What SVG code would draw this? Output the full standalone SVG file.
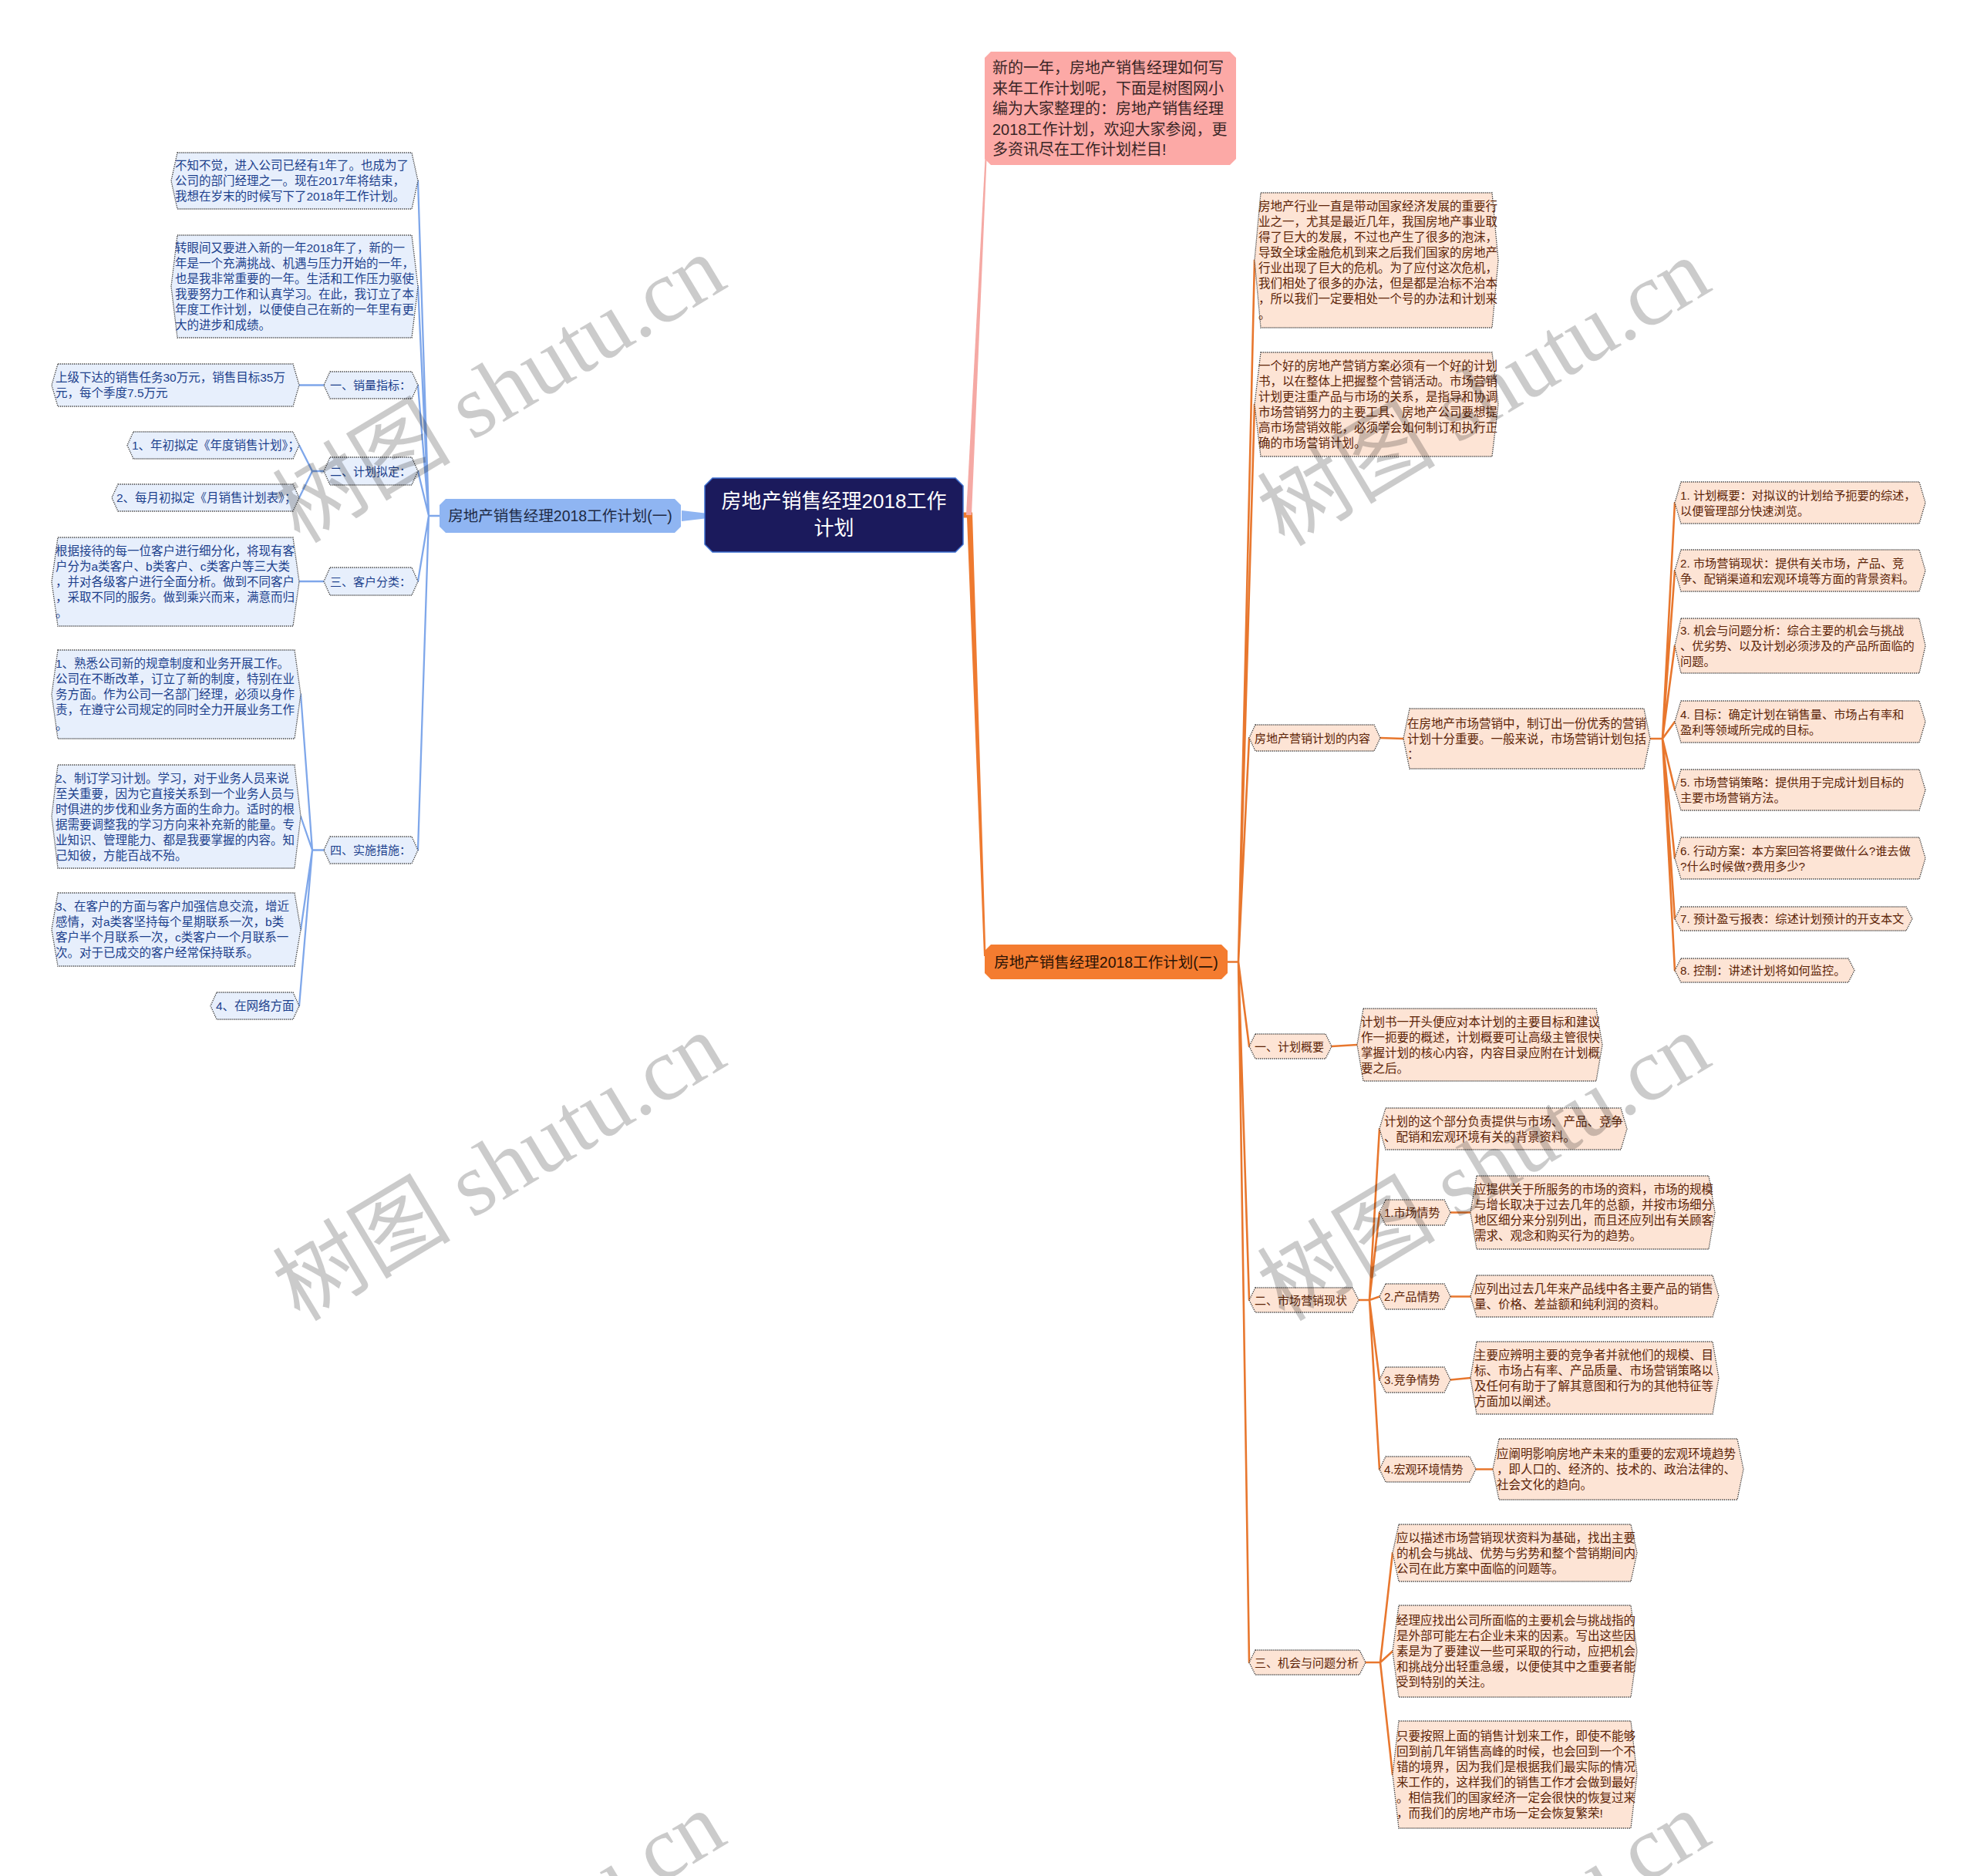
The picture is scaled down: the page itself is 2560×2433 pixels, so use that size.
<svg xmlns="http://www.w3.org/2000/svg" width="2560" height="2433" viewBox="0 0 2560 2433">
<style>
text{font-family:"Liberation Sans","Noto Sans CJK SC",sans-serif;}
.bn{fill:#e7effc;stroke:#3a3a3a;stroke-width:1.3;stroke-dasharray:1.3 1.3;}
.on{fill:#fde4d5;stroke:#3a3a3a;stroke-width:1.3;stroke-dasharray:1.3 1.3;}
.bt{font-size:15.5px;fill:#1c3f8c;}
.ot{font-size:15.5px;fill:#5c2306;}
.ct{font-size:15.2px;fill:#5c2306;}
.lb{font-size:15px;fill:#1c3f8c;}
.lo{font-size:15px;fill:#5c2306;}
.bl{fill:none;stroke:#7fa7ea;stroke-width:2.3;stroke-linecap:round;}
.ol{fill:none;stroke:#e8772e;stroke-width:2.6;stroke-linecap:round;}
.wm{font-family:"Liberation Serif","Noto Sans CJK SC",serif;font-size:116px;fill:#000;opacity:0.2;}
</style>

<g id="connectors">
  <polygon points="884,662 914,665.5 914,672.5 884,676" fill="#8fb5f2"/>
  <polygon points="1249,664.5 1261,664.5 1278.5,1240 1276,1240 1254,671.5 1249,671.5" fill="#ee7a30"/>
  <polygon points="1253,668 1260,668 1280,196 1278,196" fill="#f5a9a4"/>
  <path class="bl" d="M570,669 H556 M556,669 L542,234.5 M556,669 L542,371.5 M556,669 L542,499.5 M556,669 L542,611 M556,669 L542,754 M556,669 L542,1102.5"/>
  <path class="bl" d="M420,499.5 H388"/>
  <path class="bl" d="M420,611 H405 L388,577.5 M405,611 L388,645.5"/>
  <path class="bl" d="M420,754 H388"/>
  <path class="bl" d="M420,1102.5 H405 L390,900.5 M405,1102.5 L390,1059 M405,1102.5 L390,1205.5 M405,1102.5 L388,1304.5"/>
  <path class="ol" d="M1592,1247.5 H1606 M1606,1247.5 L1627,337.5 M1606,1247.5 L1627,524.5 M1606,1247.5 L1620,957 M1606,1247.5 L1620,1357 M1606,1247.5 L1620,1686 M1606,1247.5 L1620,2156"/>
  <path class="ol" d="M1790,957 L1820,958"/>
  <path class="ol" d="M2140,958 H2156 M2156,958 L2172,652 M2156,958 L2172,740 M2156,958 L2172,837.5 M2156,958 L2172,936 M2156,958 L2172,1024.5 M2156,958 L2172,1113 M2156,958 L2172,1191.5 M2156,958 L2172,1258.5"/>
  <path class="ol" d="M1727,1357 L1760,1355"/>
  <path class="ol" d="M1762,1686 H1776 M1776,1686 L1789,1464 M1776,1686 L1789,1572.5 M1776,1686 L1789,1681.5 M1776,1686 L1789,1789.5 M1776,1686 L1789,1905.5"/>
  <path class="ol" d="M1881,1572.5 H1907 M1881,1681.5 H1907 M1881,1789.5 L1907,1787 M1914,1905.5 H1936"/>
  <path class="ol" d="M1771,2156 H1790 M1790,2156 L1806,2014 M1790,2156 L1806,2141.5 M1790,2156 L1806,2301.5"/>
</g>

<g id="center">
  <polygon points="924,620 1239,620 1249,630 1249,706 1239,716 924,716 914,706 914,630" fill="#1b1a5c" stroke="#3d6fd0" stroke-width="1.5"/>
  <text x="1081.5" y="659" font-size="26" fill="#ffffff" text-anchor="middle">房地产销售经理2018工作</text>
  <text x="1081.5" y="694" font-size="26" fill="#ffffff" text-anchor="middle">计划</text>
</g>

<g id="branch-left">
  <polygon points="578,647 875,647 883,655 883,683 875,691 578,691 570,683 570,655" fill="#8fb5f2"/>
  <text x="726.5" y="676" font-size="19.5" fill="#1e2a44" text-anchor="middle">房地产销售经理2018工作计划(一)</text>
</g>

<g id="branch-right">
  <polygon points="1285,1225 1584,1225 1592,1233 1592,1262 1584,1270 1285,1270 1277,1262 1277,1233" fill="#f47c30"/>
  <text x="1434.5" y="1254.5" font-size="19.5" fill="#2a1305" text-anchor="middle">房地产销售经理2018工作计划(二)</text>
</g>

<g id="intro">
  <polygon points="1285,67 1595,67 1603,75 1603,206 1595,214 1285,214 1277,206 1277,75" fill="#fca9a6"/>
  <text font-size="20" fill="#3a2626">
    <tspan x="1287" y="95">新的一年，房地产销售经理如何写</tspan>
    <tspan x="1287" y="121.5">来年工作计划呢，下面是树图网小</tspan>
    <tspan x="1287" y="148">编为大家整理的：房地产销售经理</tspan>
    <tspan x="1287" y="174.5">2018工作计划，欢迎大家参阅，更</tspan>
    <tspan x="1287" y="201">多资讯尽在工作计划栏目!</tspan>
  </text>
</g>

<g id="b1">
  <polygon class="bn" points="230,198 534,198 542,234.5 534,271 230,271 222,234.5"/>
  <text class="bt">
    <tspan x="227" y="220">不知不觉，进入公司已经有1年了。也成为了</tspan>
    <tspan x="227" y="240">公司的部门经理之一。现在2017年将结束，</tspan>
    <tspan x="227" y="260">我想在岁末的时候写下了2018年工作计划。</tspan>
  </text>
</g>
<g id="b2">
  <polygon class="bn" points="230,305 534,305 542,371.5 534,438 230,438 222,371.5"/>
  <text class="bt">
    <tspan x="227" y="327">转眼间又要进入新的一年2018年了，新的一</tspan>
    <tspan x="227" y="347">年是一个充满挑战、机遇与压力开始的一年，</tspan>
    <tspan x="227" y="367">也是我非常重要的一年。生活和工作压力驱使</tspan>
    <tspan x="227" y="387">我要努力工作和认真学习。在此，我订立了本</tspan>
    <tspan x="227" y="407">年度工作计划，以便使自己在新的一年里有更</tspan>
    <tspan x="227" y="427">大的进步和成绩。</tspan>
  </text>
</g>
<g id="l1">
  <polygon class="bn" points="428,482 534,482 542,499.5 534,517 428,517 420,499.5"/>
  <text class="lb" x="428" y="505">一、销量指标：</text>
</g>
<g id="b3">
  <polygon class="bn" points="75,472 380,472 388,499.5 380,527 75,527 67,499.5"/>
  <text class="bt">
    <tspan x="72" y="495">上级下达的销售任务30万元，销售目标35万</tspan>
    <tspan x="72" y="515">元，每个季度7.5万元</tspan>
  </text>
</g>
<g id="l2">
  <polygon class="bn" points="428,593 534,593 542,611 534,629 428,629 420,611"/>
  <text class="lb" x="428" y="616.5">二、计划拟定：</text>
</g>
<g id="b4">
  <polygon class="bn" points="173,560 380,560 388,577.5 380,595 173,595 165,577.5"/>
  <text class="bt" x="171" y="583" font-size="14.6">1、年初拟定《年度销售计划》；</text>
</g>
<g id="b5">
  <polygon class="bn" points="153,628 380,628 388,645.5 380,663 153,663 145,645.5"/>
  <text class="bt" x="151" y="651" font-size="14.6">2、每月初拟定《月销售计划表》；</text>
</g>
<g id="l3">
  <polygon class="bn" points="428,736 534,736 542,754 534,772 428,772 420,754"/>
  <text class="lb" x="428" y="759.5">三、客户分类：</text>
</g>
<g id="b6">
  <polygon class="bn" points="75,697 380,697 388,754.5 380,812 75,812 67,754.5"/>
  <text class="bt">
    <tspan x="72" y="720">根据接待的每一位客户进行细分化，将现有客</tspan>
    <tspan x="72" y="740">户分为a类客户、b类客户、c类客户等三大类</tspan>
    <tspan x="72" y="760">，并对各级客户进行全面分析。做到不同客户</tspan>
    <tspan x="72" y="780">，采取不同的服务。做到乘兴而来，满意而归</tspan>
    <tspan x="72" y="800">。</tspan>
  </text>
</g>
<g id="l4">
  <polygon class="bn" points="428,1085 534,1085 542,1102.5 534,1120 428,1120 420,1102.5"/>
  <text class="lb" x="428" y="1108">四、实施措施：</text>
</g>
<g id="b7">
  <polygon class="bn" points="75,843 382,843 390,900.5 382,958 75,958 67,900.5"/>
  <text class="bt">
    <tspan x="72" y="866">1、熟悉公司新的规章制度和业务开展工作。</tspan>
    <tspan x="72" y="886">公司在不断改革，订立了新的制度，特别在业</tspan>
    <tspan x="72" y="906">务方面。作为公司一名部门经理，必须以身作</tspan>
    <tspan x="72" y="926">责，在遵守公司规定的同时全力开展业务工作</tspan>
    <tspan x="72" y="946">。</tspan>
  </text>
</g>
<g id="b8">
  <polygon class="bn" points="75,992 382,992 390,1059 382,1126 75,1126 67,1059"/>
  <text class="bt">
    <tspan x="72" y="1014.5">2、制订学习计划。学习，对于业务人员来说</tspan>
    <tspan x="72" y="1034.5">至关重要，因为它直接关系到一个业务人员与</tspan>
    <tspan x="72" y="1054.5">时俱进的步伐和业务方面的生命力。适时的根</tspan>
    <tspan x="72" y="1074.5">据需要调整我的学习方向来补充新的能量。专</tspan>
    <tspan x="72" y="1094.5">业知识、管理能力、都是我要掌握的内容。知</tspan>
    <tspan x="72" y="1114.5">己知彼，方能百战不殆。</tspan>
  </text>
</g>
<g id="b9">
  <polygon class="bn" points="75,1158 382,1158 390,1205.5 382,1253 75,1253 67,1205.5"/>
  <text class="bt">
    <tspan x="72" y="1181">3、在客户的方面与客户加强信息交流，增近</tspan>
    <tspan x="72" y="1201">感情，对a类客坚持每个星期联系一次，b类</tspan>
    <tspan x="72" y="1221">客户半个月联系一次，c类客户一个月联系一</tspan>
    <tspan x="72" y="1241">次。对于已成交的客户经常保持联系。</tspan>
  </text>
</g>
<g id="b10">
  <polygon class="bn" points="281,1287 380,1287 388,1304.5 380,1322 281,1322 273,1304.5"/>
  <text class="bt" x="280" y="1310">4、在网络方面</text>
</g>

<g id="o1">
  <polygon class="on" points="1635,250 1935,250 1943,337.5 1935,425 1635,425 1627,337.5"/>
  <text class="ot">
    <tspan x="1632" y="273">房地产行业一直是带动国家经济发展的重要行</tspan>
    <tspan x="1632" y="293">业之一，尤其是最近几年，我国房地产事业取</tspan>
    <tspan x="1632" y="313">得了巨大的发展，不过也产生了很多的泡沫，</tspan>
    <tspan x="1632" y="333">导致全球金融危机到来之后我们国家的房地产</tspan>
    <tspan x="1632" y="353">行业出现了巨大的危机。为了应付这次危机，</tspan>
    <tspan x="1632" y="373">我们相处了很多的办法，但是都是治标不治本</tspan>
    <tspan x="1632" y="393">，所以我们一定要相处一个号的办法和计划来</tspan>
    <tspan x="1632" y="413">。</tspan>
  </text>
</g>
<g id="o2">
  <polygon class="on" points="1635,457 1935,457 1943,524.5 1935,592 1635,592 1627,524.5"/>
  <text class="ot">
    <tspan x="1632" y="480">一个好的房地产营销方案必须有一个好的计划</tspan>
    <tspan x="1632" y="500">书，以在整体上把握整个营销活动。市场营销</tspan>
    <tspan x="1632" y="520">计划更注重产品与市场的关系，是指导和协调</tspan>
    <tspan x="1632" y="540">市场营销努力的主要工具、房地产公司要想提</tspan>
    <tspan x="1632" y="560">高市场营销效能，必须学会如何制订和执行正</tspan>
    <tspan x="1632" y="580">确的市场营销计划。</tspan>
  </text>
</g>
<g id="o3">
  <polygon class="on" points="1628,940 1782,940 1790,957 1782,974 1628,974 1620,957"/>
  <text class="lo" x="1627" y="962.5">房地产营销计划的内容</text>
</g>
<g id="o3c">
  <polygon class="on" points="1828,919 2132,919 2140,958 2132,997 1828,997 1820,958"/>
  <text class="ot">
    <tspan x="1825" y="943.5">在房地产市场营销中，制订出一份优秀的营销</tspan>
    <tspan x="1825" y="963.5">计划十分重要。一般来说，市场营销计划包括</tspan>
    <tspan x="1825" y="983.5">：</tspan>
  </text>
</g>
<g id="c1">
  <polygon class="on" points="2180,625 2489,625 2497,652 2489,679 2180,679 2172,652"/>
  <text class="ct"><tspan x="2179" y="647.5">1. 计划概要：对拟议的计划给予扼要的综述，</tspan><tspan x="2179" y="667.5">以便管理部分快速浏览。</tspan></text>
</g>
<g id="c2">
  <polygon class="on" points="2180,713 2489,713 2497,740 2489,767 2180,767 2172,740"/>
  <text class="ct"><tspan x="2179" y="735.5">2. 市场营销现状：提供有关市场，产品、竞</tspan><tspan x="2179" y="755.5">争、配销渠道和宏观环境等方面的背景资料。</tspan></text>
</g>
<g id="c3">
  <polygon class="on" points="2180,802 2489,802 2497,837.5 2489,873 2180,873 2172,837.5"/>
  <text class="ct"><tspan x="2179" y="823">3. 机会与问题分析：综合主要的机会与挑战</tspan><tspan x="2179" y="843">、优劣势、以及计划必须涉及的产品所面临的</tspan><tspan x="2179" y="863">问题。</tspan></text>
</g>
<g id="c4">
  <polygon class="on" points="2180,909 2489,909 2497,936 2489,963 2180,963 2172,936"/>
  <text class="ct"><tspan x="2179" y="931.5">4. 目标：确定计划在销售量、市场占有率和</tspan><tspan x="2179" y="951.5">盈利等领域所完成的目标。</tspan></text>
</g>
<g id="c5">
  <polygon class="on" points="2180,998 2489,998 2497,1024.5 2489,1051 2180,1051 2172,1024.5"/>
  <text class="ct"><tspan x="2179" y="1020">5. 市场营销策略：提供用于完成计划目标的</tspan><tspan x="2179" y="1040">主要市场营销方法。</tspan></text>
</g>
<g id="c6">
  <polygon class="on" points="2180,1086 2489,1086 2497,1113 2489,1140 2180,1140 2172,1113"/>
  <text class="ct"><tspan x="2179" y="1108.5">6. 行动方案：本方案回答将要做什么?谁去做</tspan><tspan x="2179" y="1128.5">?什么时候做?费用多少?</tspan></text>
</g>
<g id="c7">
  <polygon class="on" points="2180,1176 2472,1176 2480,1191.5 2472,1207 2180,1207 2172,1191.5"/>
  <text class="ct" x="2179" y="1197">7. 预计盈亏报表：综述计划预计的开支本文</text>
</g>
<g id="c8">
  <polygon class="on" points="2180,1243 2397,1243 2405,1258.5 2397,1274 2180,1274 2172,1258.5"/>
  <text class="ct" x="2179" y="1264">8. 控制：讲述计划将如何监控。</text>
</g>
<g id="o4">
  <polygon class="on" points="1628,1341 1719,1341 1727,1357 1719,1373 1628,1373 1620,1357"/>
  <text class="lo" x="1627" y="1362.5">一、计划概要</text>
</g>
<g id="o4c">
  <polygon class="on" points="1768,1308 2070,1308 2078,1355 2070,1402 1768,1402 1760,1355"/>
  <text class="ot">
    <tspan x="1765" y="1330.5">计划书一开头便应对本计划的主要目标和建议</tspan>
    <tspan x="1765" y="1350.5">作一扼要的概述，计划概要可让高级主管很快</tspan>
    <tspan x="1765" y="1370.5">掌握计划的核心内容，内容目录应附在计划概</tspan>
    <tspan x="1765" y="1390.5">要之后。</tspan>
  </text>
</g>
<g id="o5">
  <polygon class="on" points="1628,1670 1754,1670 1762,1686 1754,1702 1628,1702 1620,1686"/>
  <text class="lo" x="1627" y="1691.5">二、市场营销现状</text>
</g>
<g id="o5a">
  <polygon class="on" points="1797,1437 2102,1437 2110,1464 2102,1491 1797,1491 1789,1464"/>
  <text class="ot"><tspan x="1795" y="1459.5">计划的这个部分负责提供与市场、产品、竞争</tspan><tspan x="1795" y="1479.5">、配销和宏观环境有关的背景资料。</tspan></text>
</g>
<g id="o5b">
  <polygon class="on" points="1797,1556 1873,1556 1881,1572.5 1873,1589 1797,1589 1789,1572.5"/>
  <text class="lo" x="1795" y="1578">1.市场情势</text>
</g>
<g id="o5bc">
  <polygon class="on" points="1915,1525 2216,1525 2224,1572.5 2216,1620 1915,1620 1907,1572.5"/>
  <text class="ot">
    <tspan x="1912" y="1548">应提供关于所服务的市场的资料，市场的规模</tspan>
    <tspan x="1912" y="1568">与增长取决于过去几年的总额，并按市场细分</tspan>
    <tspan x="1912" y="1588">地区细分来分别列出，而且还应列出有关顾客</tspan>
    <tspan x="1912" y="1608">需求、观念和购买行为的趋势。</tspan>
  </text>
</g>
<g id="o5c">
  <polygon class="on" points="1797,1665 1873,1665 1881,1681.5 1873,1698 1797,1698 1789,1681.5"/>
  <text class="lo" x="1795" y="1687">2.产品情势</text>
</g>
<g id="o5cc">
  <polygon class="on" points="1915,1654 2221,1654 2229,1681 2221,1708 1915,1708 1907,1681"/>
  <text class="ot"><tspan x="1912" y="1676.5">应列出过去几年来产品线中各主要产品的销售</tspan><tspan x="1912" y="1696.5">量、价格、差益额和纯利润的资料。</tspan></text>
</g>
<g id="o5d">
  <polygon class="on" points="1797,1773 1873,1773 1881,1789.5 1873,1806 1797,1806 1789,1789.5"/>
  <text class="lo" x="1795" y="1795">3.竞争情势</text>
</g>
<g id="o5dc">
  <polygon class="on" points="1915,1740 2221,1740 2229,1787 2221,1834 1915,1834 1907,1787"/>
  <text class="ot">
    <tspan x="1912" y="1762.5">主要应辨明主要的竞争者并就他们的规模、目</tspan>
    <tspan x="1912" y="1782.5">标、市场占有率、产品质量、市场营销策略以</tspan>
    <tspan x="1912" y="1802.5">及任何有助于了解其意图和行为的其他特征等</tspan>
    <tspan x="1912" y="1822.5">方面加以阐述。</tspan>
  </text>
</g>
<g id="o5e">
  <polygon class="on" points="1797,1889 1906,1889 1914,1905.5 1906,1922 1797,1922 1789,1905.5"/>
  <text class="lo" x="1795" y="1911">4.宏观环境情势</text>
</g>
<g id="o5ec">
  <polygon class="on" points="1944,1866 2253,1866 2261,1905.5 2253,1945 1944,1945 1936,1905.5"/>
  <text class="ot">
    <tspan x="1941" y="1891">应阐明影响房地产未来的重要的宏观环境趋势</tspan>
    <tspan x="1941" y="1911">，即人口的、经济的、技术的、政治法律的、</tspan>
    <tspan x="1941" y="1931">社会文化的趋向。</tspan>
  </text>
</g>
<g id="o6">
  <polygon class="on" points="1628,2140 1763,2140 1771,2156 1763,2172 1628,2172 1620,2156"/>
  <text class="lo" x="1627" y="2161.5">三、机会与问题分析</text>
</g>
<g id="o6a">
  <polygon class="on" points="1814,1977 2115,1977 2123,2014 2115,2051 1814,2051 1806,2014"/>
  <text class="ot">
    <tspan x="1811" y="1999.5">应以描述市场营销现状资料为基础，找出主要</tspan>
    <tspan x="1811" y="2019.5">的机会与挑战、优势与劣势和整个营销期间内</tspan>
    <tspan x="1811" y="2039.5">公司在此方案中面临的问题等。</tspan>
  </text>
</g>
<g id="o6b">
  <polygon class="on" points="1814,2082 2115,2082 2123,2141.5 2115,2201 1814,2201 1806,2141.5"/>
  <text class="ot">
    <tspan x="1811" y="2107">经理应找出公司所面临的主要机会与挑战指的</tspan>
    <tspan x="1811" y="2127">是外部可能左右企业未来的因素。写出这些因</tspan>
    <tspan x="1811" y="2147">素是为了要建议一些可采取的行动，应把机会</tspan>
    <tspan x="1811" y="2167">和挑战分出轻重急缓，以便使其中之重要者能</tspan>
    <tspan x="1811" y="2187">受到特别的关注。</tspan>
  </text>
</g>
<g id="o6c">
  <polygon class="on" points="1814,2232 2115,2232 2123,2301.5 2115,2371 1814,2371 1806,2301.5"/>
  <text class="ot">
    <tspan x="1811" y="2257">只要按照上面的销售计划来工作，即使不能够</tspan>
    <tspan x="1811" y="2277">回到前几年销售高峰的时候，也会回到一个不</tspan>
    <tspan x="1811" y="2297">错的境界，因为我们是根据我们最实际的情况</tspan>
    <tspan x="1811" y="2317">来工作的，这样我们的销售工作才会做到最好</tspan>
    <tspan x="1811" y="2337">。相信我们的国家经济一定会很快的恢复过来</tspan>
    <tspan x="1811" y="2357">，而我们的房地产市场一定会恢复繁荣!</tspan>
  </text>
</g>

<g id="watermarks">
  <text class="wm" transform="translate(648,506) rotate(-31)" text-anchor="middle" y="38">树图 shutu.cn</text>
  <text class="wm" transform="translate(1925,510) rotate(-31)" text-anchor="middle" y="38">树图 shutu.cn</text>
  <text class="wm" transform="translate(648,1515) rotate(-31)" text-anchor="middle" y="38">树图 shutu.cn</text>
  <text class="wm" transform="translate(1925,1515) rotate(-31)" text-anchor="middle" y="38">树图 shutu.cn</text>
  <text class="wm" transform="translate(648,2524) rotate(-31)" text-anchor="middle" y="38">树图 shutu.cn</text>
  <text class="wm" transform="translate(1925,2524) rotate(-31)" text-anchor="middle" y="38">树图 shutu.cn</text>
</g>
</svg>
